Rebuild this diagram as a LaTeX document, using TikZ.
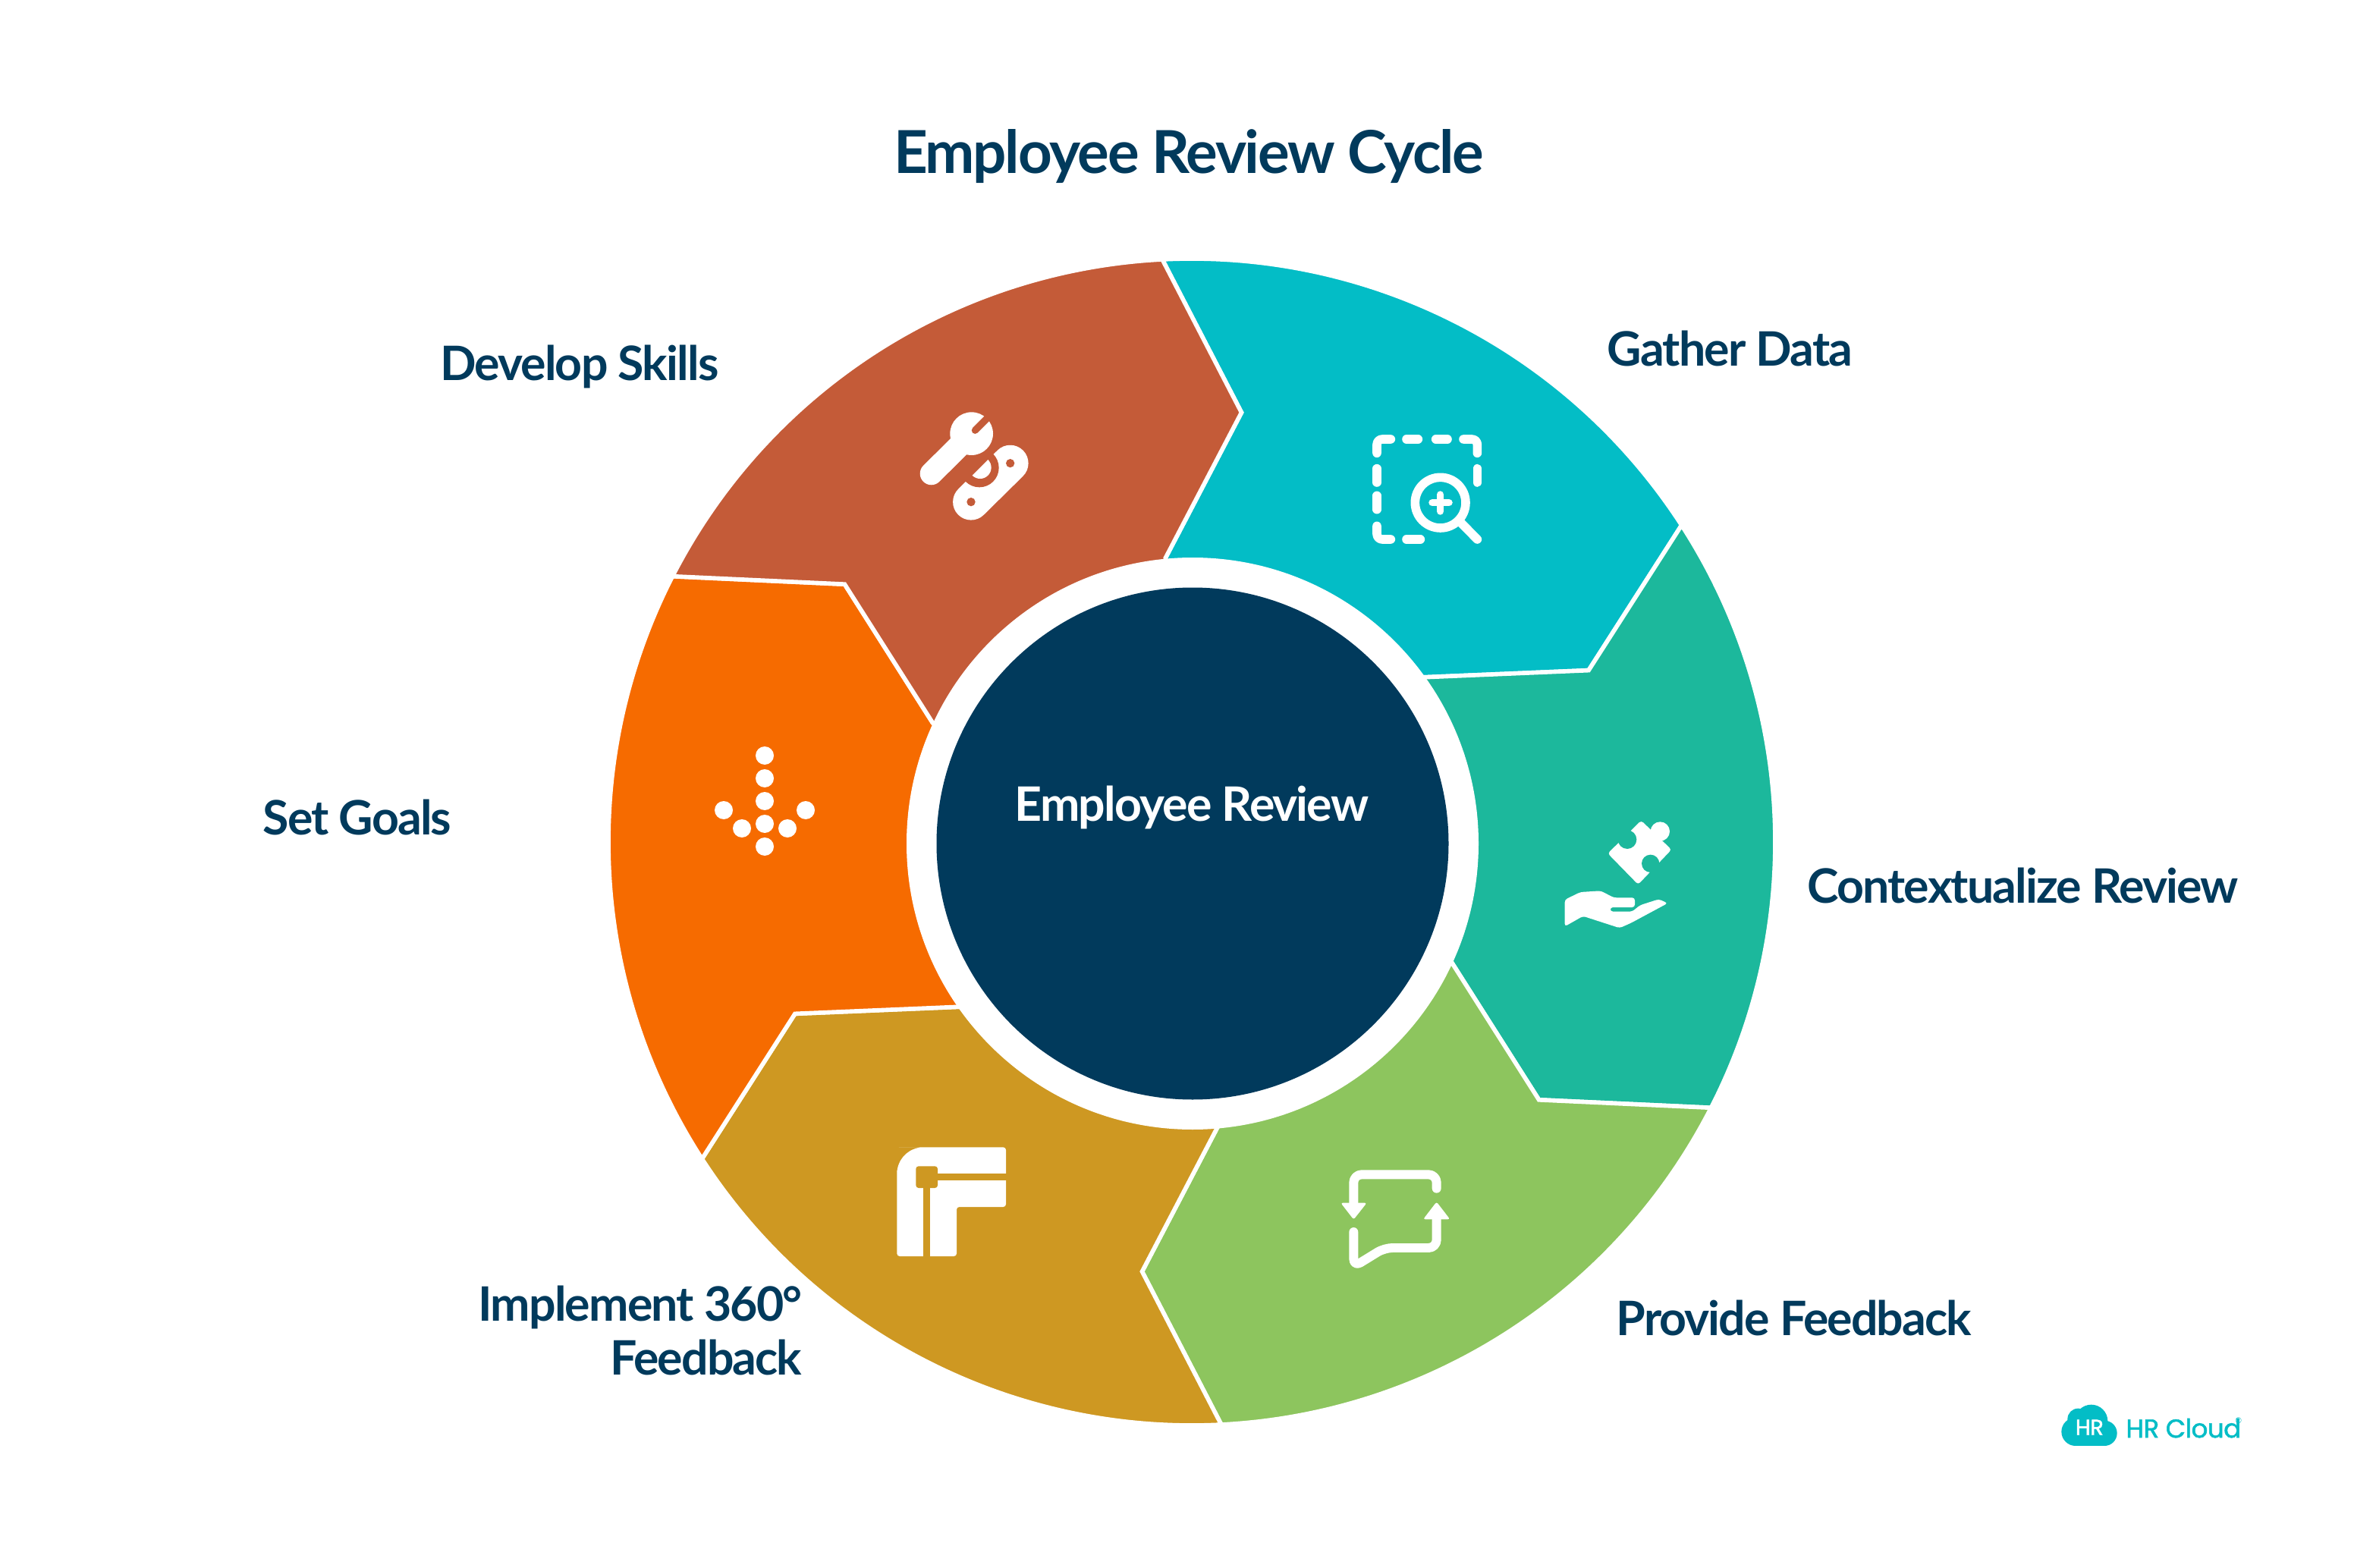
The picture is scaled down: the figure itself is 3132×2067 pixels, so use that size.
\documentclass[tikz,border=0pt]{standalone}
\usepackage{fontspec}
\setmainfont[LetterSpace=-3]{Lato}
\newfontfamily\logofont[RawFeature={embolden=1.5}, LetterSpace=-1.5]{Poppins}
\usetikzlibrary{positioning}
\definecolor{navy}{HTML}{013A5C}
\definecolor{gather}{HTML}{03BDC6}
\definecolor{context}{HTML}{1CB89C}
\definecolor{provide}{HTML}{8DC55E}
\definecolor{implement}{HTML}{CE9822}
\definecolor{setgoals}{HTML}{F66B00}
\definecolor{develop}{HTML}{C45B38}
\tikzstyle{caption} = [font=\fontsize{17.8}{20}\selectfont\bfseries, text=navy, inner sep=0pt]
\tikzstyle{icon} = [white, line width=3.3pt, line cap=round, line join=round]
\tikzstyle{zoomed} = [scale=1/3]

\begin{document}
\begin{tikzpicture}[x=0.01cm, y=0.01cm, yscale=-1]
		\fill[white] (0,0) rectangle (3132,2067);
		\useasboundingbox (0,0) rectangle (3132,2067);
		% Wheel
		\begin{scope}[shift={(1571,1110)}]
			\foreach \a/\c in {92.9/gather, 32.9/context, -27.1/provide, -87.1/implement, -147.1/setgoals, -207.1/develop}
				\filldraw[fill=\c, draw=white, line width=1.6pt, line join=miter]
				({-\a}:769) arc ({-\a}:{-\a+60}:769)
				-- ({-\a+69.5}:570) -- ({-\a+57.6}:376) -- (0,0)
				-- ({-\a-2.4}:376) -- ({-\a+9.5}:570) -- cycle;
			\fill[white] (1,2) circle (377);
		\end{scope}
		\node[circle, fill=navy, minimum size=0.01cm*675, inner sep=0pt] (hub) at (1572,1112) {};
		% Nodes
		\node[font=\fontsize{22.2}{25}\selectfont\bfseries, text=navy, inner sep=0pt] (title) at (1567,206) {Employee Review Cycle};
		\node[caption, text=white] (review) at (1571,1064) {Employee Review};
		\node[caption, anchor=west] (gatherdata) at (2118,459) {Gather Data};
		\node[caption, anchor=west] (contextreview) at (2382,1167) {Contextualize Review};
		\node[caption, anchor=west] (feedback) at (2130,1737) {Provide Feedback};
		\node[caption, anchor=east] (skills) at (948,483) {Develop Skills};
		\node[caption, anchor=east] (goals) at (596,1077) {Set Goals};
		\node[caption, anchor=east, align=right] (threesixty) at (1058,1754) {Implement 360°\\Feedback};
		% Data icon
		\begin{scope}[shift={(1780,550)}, zoomed]
			\draw[icon, rounded corners=2pt] (160,87) -- (105,87) -- (105,142);
			\draw[icon, rounded corners=2pt] (447,87) -- (502,87) -- (502,142);
			\draw[icon, rounded corners=2pt] (105,430) -- (105,483) -- (160,483);
			\draw[icon] (222,87) -- (268,87) (338,87) -- (384,87) (222,483) -- (277,483);
			\draw[icon] (105,203) -- (105,258) (105,310) -- (105,365) (502,203) -- (502,258);
			\draw[icon] (356,338) circle (100) (440,420) -- (502,483);
			\draw[icon, line width=2.7pt] (324,338) -- (390,338) (356,306) -- (356,372);
		\end{scope}
		% Puzzle icon
		\begin{scope}[shift={(2040,1060)}, zoomed]
			\fill[white, rounded corners=1pt] (370,65) -- (490,180) -- (358,318) -- (238,195) -- cycle;
			\fill[white] (445,108) circle (38);
			\fill[context] (315,140) circle (37);
			\fill[context] (407,235) circle (35);
			\fill[white, rounded corners=1pt] (68,378) -- (130,348) -- (210,343) -- (262,370) -- (345,370) -- (345,408) -- (248,408) -- (248,425) -- (335,425) -- (365,400) -- (440,376) -- (475,392) -- (330,470) -- (285,490) -- (140,443) -- (68,484) -- cycle;
		\end{scope}
		% Chat icon
		\begin{scope}[shift={(1750,1520)}, zoomed]
			\draw[icon, line width=3.4pt, rounded corners=3pt] (103,200) -- (103,85) -- (431,85) -- (431,140);
			\draw[icon, line width=3.4pt, rounded corners=3pt] (431,250) -- (431,375) -- (225,375) -- (103,450) -- (103,312);
			\fill[white, rounded corners=0.8pt] (52,197) -- (155,197) -- (103,263) -- cycle;
			\fill[white, rounded corners=0.8pt] (378,262) -- (484,262) -- (431,193) -- cycle;
		\end{scope}
		% Feedback icon
		\begin{scope}[shift={(1160,1490)}, zoomed]
			\fill[white, rounded corners=1pt] (67,498) -- (67,170) {[rounded corners=10pt] -- (67,67) -- (180,67)} -- (498,67) -- (498,303) -- (303,303) -- (303,498) -- cycle;
			\fill[implement, rounded corners=1pt] (142,142) rectangle (228,228);
			\fill[implement] (228,171) rectangle (500,197);
			\fill[implement] (171,228) rectangle (197,500);
		\end{scope}
		% Goals icon
		\begin{scope}[shift={(920,970)}, zoomed]
			\foreach \x/\y in {264/78, 264/168, 264/258, 264/348, 264/438, 102/294, 174/366, 354/366, 426/294}
				\fill[white] (\x,\y) circle (36);
		\end{scope}
		% Skills icon
		\begin{scope}[shift={(1180,520)}, zoomed]
			\draw[white, line width=13.6pt, line cap=round] (300,425) -- (455,272);
			\fill[develop] (333,290) circle (77);
			\fill[white] (367,258) arc (-45:135:44) -- cycle;
			\fill[develop] (300,425) circle (17);
			\fill[develop] (455,272) circle (17);
			\draw[white, line width=8.5pt, line cap=round] (143,313) -- (260,197);
			\fill[white] (302,155) circle (85);
			\draw[develop, line width=2.6pt, line cap=round] (316,142) -- (400,58);
		\end{scope}
		% Logo
		\begin{scope}[shift={(2700,1830)}, zoomed]
			\foreach \x/\y/\r in {108/172/56, 118/122/42, 170/130/65, 222/178/50}
				\fill[gather] (\x,\y) circle (\r);
			\fill[gather] (108,178) rectangle (222,228);
			\node[font=\logofont\fontsize{8.2}{10}\selectfont, text=white, inner sep=0pt] (hr) at (163,155) {HR};
			\node[font=\logofont\fontsize{9.7}{11}\selectfont, text=gather, inner sep=0pt, anchor=west] (cloud) at (305,158) {HR Cloud};
			\node[font=\fontsize{3}{3}\selectfont, text=gather, inner sep=0pt] (mark) at (752,129) {®};
		\end{scope}
	\end{tikzpicture}
\end{document}
